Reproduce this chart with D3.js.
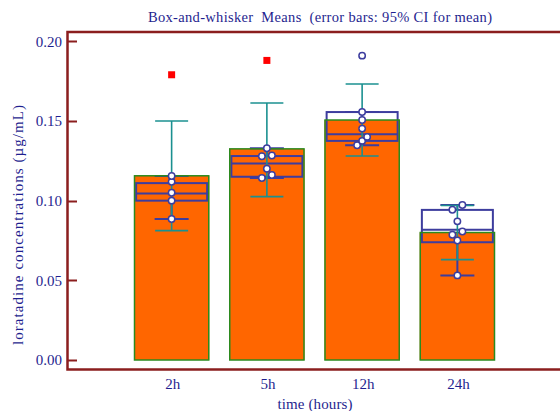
<!DOCTYPE html>
<html>
<head>
<meta charset="utf-8">
<script src="https://cdn.jsdelivr.net/npm/d3@7"></script>
<style>
  html, body { margin: 0; padding: 0; background: #fff; }
  svg { display: block; }
  text { font-family: "Liberation Serif", "Times New Roman", serif; fill: #1f1f8f; white-space: pre; }
</style>
</head>
<body>
<svg id="chart" width="560" height="411"></svg>
<script>
// Sampling times
const categories = ["2h", "5h", "12h", "24h"];
// Bar heights: group means
const means = [0.1156, 0.1325, 0.1506, 0.0800];
// 95% CI for the mean
const ciLow = [0.0812, 0.1025, 0.1280, 0.0630];
const ciHigh = [0.1500, 0.1613, 0.1732, 0.0970];
// Box-and-whisker summaries
const q1 = [0.1000, 0.1150, 0.1375, 0.0739];
const medians = [0.1045, 0.1233, 0.1417, 0.0817];
const q3 = [0.1110, 0.1280, 0.1556, 0.0942];
const whiskerLow = [0.0885, 0.1142, 0.1348, 0.0531];
const whiskerHigh = [0.1155, 0.1329, 0.1556, 0.0973];
// Individual observations within the whiskers
const observations = [
  [0.0885, 0.1000, 0.1050, 0.1118, 0.1155],
  [0.1142, 0.1161, 0.1200, 0.1279, 0.1283, 0.1329],
  [0.1348, 0.1375, 0.1400, 0.1452, 0.1506, 0.1556],
  [0.0531, 0.0750, 0.0786, 0.0806, 0.0870, 0.0943, 0.0973]
];
// Outside values (open circle) and far-out values (red square)
const outsideValues = [[], [], [0.1910], []];
const farOutValues = [[0.1790], [0.1880], [], []];
// Axis ticks
const yTicks = [0.00, 0.05, 0.10, 0.15, 0.20];

const svg = d3.select("#chart");
const frameColor = "#8b1e1e";
const navy = "#3d3d9e";
const teal = "#1b9090";

const y = d3.scaleLinear().domain([0, 0.2]).range([360, 41.3]);
const x = d3.scaleBand().domain(categories).range([124, 505]).paddingInner(0.21).paddingOuter(0.105);
const cx = c => x(c) + x.bandwidth() / 2;
const boxW = 71, capW = 34, ciCapW = 33;

// Plot frame (open to the right)
svg.append("path")
  .attr("d", `M560,32 H67.5 V369.5 H560`)
  .attr("fill", "none").attr("stroke", frameColor).attr("stroke-width", 2.5);

// Y axis ticks and labels
const yAxis = svg.append("g");
yAxis.selectAll("line").data(yTicks).join("line")
  .attr("x1", 68).attr("x2", 77)
  .attr("y1", d => Math.round(y(d)) + 0.5).attr("y2", d => Math.round(y(d)) + 0.5)
  .attr("stroke", frameColor).attr("stroke-width", 2);
yAxis.selectAll("text").data(yTicks).join("text")
  .attr("x", 62).attr("y", d => y(d)).attr("dy", "0.35em")
  .attr("text-anchor", "end").attr("font-size", 15)
  .text(d => d3.format(".2f")(d));

// X labels
svg.append("g").selectAll("text").data(categories).join("text")
  .attr("x", d => cx(d) + 1).attr("y", 389).attr("text-anchor", "middle").attr("font-size", 15)
  .text(d => d);

// Titles
svg.append("text").attr("x", 320).attr("y", 22).attr("text-anchor", "middle").attr("font-size", 14.5)
  .attr("textLength", 344).attr("lengthAdjust", "spacing")
  .text("Box-and-whisker  Means  (error bars: 95% CI for mean)");
svg.append("text").attr("x", 315).attr("y", 409).attr("text-anchor", "middle").attr("font-size", 15)
  .attr("textLength", 75).attr("lengthAdjust", "spacing")
  .text("time (hours)");
svg.append("text").attr("transform", "translate(23,225) rotate(-90)").attr("text-anchor", "middle").attr("font-size", 15)
  .attr("textLength", 240).attr("lengthAdjust", "spacing")
  .text("loratadine concentrations (µg/mL)");

const groups = categories.map((c, i) => ({
  c, mean: means[i], lo: ciLow[i], hi: ciHigh[i],
  q1: q1[i], med: medians[i], q3: q3[i], wl: whiskerLow[i], wh: whiskerHigh[i],
  obs: observations[i], out: outsideValues[i], far: farOutValues[i]
}));

// Bars (mean)
svg.append("g").selectAll("rect").data(groups).join("rect")
  .attr("x", d => x(d.c)).attr("width", x.bandwidth())
  .attr("y", d => y(d.mean)).attr("height", d => y(0) - y(d.mean))
  .attr("fill", "#ff6600");

// Box-and-whisker plots
const bx = svg.append("g").attr("fill", "none").attr("stroke", navy).attr("stroke-width", 2);
groups.forEach(d => {
  const m = cx(d.c);
  bx.append("line").attr("x1", m).attr("x2", m).attr("y1", y(d.wl)).attr("y2", y(d.q1));
  bx.append("line").attr("x1", m).attr("x2", m).attr("y1", y(d.q3)).attr("y2", y(d.wh));
  bx.append("line").attr("x1", m - capW / 2).attr("x2", m + capW / 2).attr("y1", y(d.wl)).attr("y2", y(d.wl));
  bx.append("line").attr("x1", m - capW / 2).attr("x2", m + capW / 2).attr("y1", y(d.wh)).attr("y2", y(d.wh));
  bx.append("rect").attr("x", m - boxW / 2).attr("width", boxW)
    .attr("y", y(d.q3)).attr("height", y(d.q1) - y(d.q3));
  bx.append("line").attr("x1", m - boxW / 2).attr("x2", m + boxW / 2).attr("y1", y(d.med)).attr("y2", y(d.med));
});

// Bar outlines
svg.append("g").selectAll("rect").data(groups).join("rect")
  .attr("x", d => x(d.c) + 0.5).attr("width", x.bandwidth() - 1)
  .attr("y", d => y(d.mean)).attr("height", d => y(0) - y(d.mean))
  .attr("fill", "none").attr("stroke", "#2b8a1e").attr("stroke-width", 1.5);

// 95% CI error bars
const eb = svg.append("g").attr("stroke", teal).attr("stroke-width", 1.6);
groups.forEach(d => {
  const m = cx(d.c);
  eb.append("line").attr("x1", m).attr("x2", m).attr("y1", y(d.lo)).attr("y2", y(d.hi));
  eb.append("line").attr("x1", m - ciCapW / 2).attr("x2", m + ciCapW / 2).attr("y1", y(d.lo)).attr("y2", y(d.lo));
  eb.append("line").attr("x1", m - ciCapW / 2).attr("x2", m + ciCapW / 2).attr("y1", y(d.hi)).attr("y2", y(d.hi));
});

// Observations: near-coincident points are spread sideways
function spread(values) {
  const sorted = values.slice().sort((a, b) => a - b);
  const clusters = [];
  sorted.forEach(v => {
    const last = clusters[clusters.length - 1];
    if (last && Math.abs(y(last[last.length - 1]) - y(v)) < 5) last.push(v);
    else clusters.push([v]);
  });
  const out = [];
  clusters.forEach(cl => {
    const n = cl.length;
    cl.forEach((v, k) => out.push({ v, dx: n === 1 ? 0 : (k - (n - 1) / 2) * (10 / (n - 1)) }));
  });
  return out;
}
const pts = svg.append("g");
groups.forEach(d => {
  const m = cx(d.c);
  pts.selectAll(null).data(spread(d.obs).concat(d.out.map(v => ({ v, dx: 0 })))).join("circle")
    .attr("cx", p => m + p.dx).attr("cy", p => y(p.v)).attr("r", 3.2)
    .attr("fill", "#fff").attr("stroke", navy).attr("stroke-width", 1.5);
  pts.selectAll(null).data(d.far).join("rect")
    .attr("x", m - 3.5).attr("y", v => y(v) - 3.5).attr("width", 7).attr("height", 7)
    .attr("fill", "#ff0000");
});
</script>
</body>
</html>
